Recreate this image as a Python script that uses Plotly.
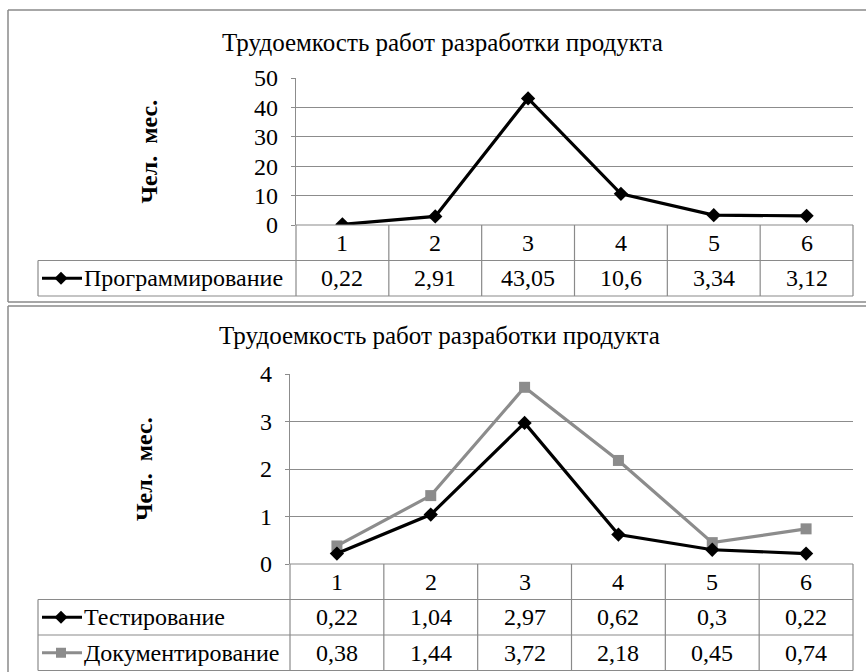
import plotly.graph_objects as go

# ---- data ----
categories = ["1", "2", "3", "4", "5", "6"]
title_text = "Трудоемкость работ разработки продукта"
y_title = "Чел.  мес."

prog_name = "Программирование"
prog_values = [0.22, 2.91, 43.05, 10.6, 3.34, 3.12]

test_name = "Тестирование"
test_values = [0.22, 1.04, 2.97, 0.62, 0.3, 0.22]

doc_name = "Документирование"
doc_values = [0.38, 1.44, 3.72, 2.18, 0.45, 0.74]

top_ticks = [0, 10, 20, 30, 40, 50]
bottom_ticks = [0, 1, 2, 3, 4]

# ---- page geometry (pixels) ----
W, H = 866, 672
FONT = "Liberation Serif"
TXT = 24
GRID = "#8c8c8c"
BORDER = "#8a8a8a"
DOC_GREY = "#8c8c8c"


def fx(px):
    return px / W


def fy(py):
    return 1 - py / H


def fmt(v):
    return f"{v:g}".replace(".", ",")


fig = go.Figure()
shapes = []
annotations = []


def line(x0, y0, x1, y1, color=BORDER, width=1.2):
    shapes.append(dict(type="line", xref="x3", yref="y3", x0=x0, y0=y0,
                       x1=x1, y1=y1, line=dict(color=color, width=width),
                       layer="above"))


def text(x, y, s, size=TXT, xanchor="center", angle=0):
    annotations.append(dict(xref="x3", yref="y3", x=x, y=y, text=s,
                            showarrow=False, xanchor=xanchor, yanchor="middle",
                            textangle=angle,
                            font=dict(family=FONT, size=size, color="black")))


def panel(idx, plot_left, plot_right, plot_top, plot_bottom, ymax, ticks,
          series, box_top, box_bottom, title_y, ytitle_x, table_rows):
    xa = "xaxis" if idx == 1 else f"xaxis{idx}"
    ya = "yaxis" if idx == 1 else f"yaxis{idx}"
    xr = "x" if idx == 1 else f"x{idx}"
    yr = "y" if idx == 1 else f"y{idx}"
    fig.layout[xa] = dict(domain=[fx(plot_left), fx(plot_right)],
                          range=[0.5, len(categories) + 0.5],
                          showgrid=False, zeroline=False, showticklabels=False,
                          showline=False, fixedrange=True, anchor=yr,
                          automargin=False)
    fig.layout[ya] = dict(domain=[fy(plot_bottom), fy(plot_top)],
                          range=[0, ymax], tickvals=ticks,
                          ticktext=[str(t) for t in ticks],
                          showgrid=True, gridcolor=GRID, gridwidth=1.3,
                          zeroline=False, showline=True, linecolor=GRID,
                          linewidth=1.2, ticks="outside", ticklen=4,
                          tickcolor=GRID, ticklabelstandoff=8,
                          tickfont=dict(family=FONT, size=TXT, color="black"),
                          fixedrange=True, anchor=xr, automargin=False)
    xs = list(range(1, len(categories) + 1))
    for name, vals, color, symbol, msize in series:
        fig.add_trace(go.Scatter(x=xs, y=vals, mode="lines+markers", name=name,
                                 xaxis=xr, yaxis=yr,
                                 line=dict(color=color, width=3.2),
                                 marker=dict(symbol=symbol, size=msize,
                                             color=color),
                                 showlegend=False, hoverinfo="skip"))

    # chart frame
    line(8, box_top, W + 5, box_top, width=1.5)
    line(8, box_top, 8, box_bottom, width=1.5)
    line(8, box_bottom, W + 5, box_bottom, width=1.5)

    # title and axis title
    text((plot_left + plot_right) / 2 - 132, title_y, title_text, size=25)
    text(ytitle_x, (plot_top + plot_bottom) / 2, "<b>" + y_title + "</b>",
         size=24, angle=-90)

    # data table
    row_h = 35.5
    col_w = (plot_right - plot_left) / len(categories)
    cat_bottom = plot_bottom + row_h
    table_bottom = cat_bottom + row_h * len(table_rows)
    line(plot_left, plot_bottom, plot_right, plot_bottom)
    for i in range(len(categories) + 1):
        cx = plot_left + i * col_w
        line(cx, plot_bottom, cx, table_bottom)
    for i, c in enumerate(categories):
        text(plot_left + (i + 0.5) * col_w, plot_bottom + row_h / 2, c)
    line(38, cat_bottom, plot_right, cat_bottom)
    line(38, cat_bottom, 38, table_bottom)
    for r, (name, vals, color, symbol, msize) in enumerate(table_rows):
        top = cat_bottom + r * row_h
        bottom = top + row_h
        cy = (top + bottom) / 2
        line(38, bottom, plot_right, bottom)
        # legend key: short line with the series marker
        line(42, cy, 82, cy, color=color, width=3)
        fig.add_trace(go.Scatter(x=[61], y=[cy], mode="markers",
                                 xaxis="x3", yaxis="y3",
                                 marker=dict(symbol=symbol, size=msize - 1,
                                             color=color),
                                 showlegend=False, hoverinfo="skip"))
        text(82, cy, name, xanchor="left")
        for i, v in enumerate(vals):
            text(plot_left + (i + 0.5) * col_w, cy, fmt(v))


prog_series = [(prog_name, prog_values, "black", "diamond", 11)]
panel(1, 296, 853, 78, 225, 50, top_ticks, prog_series,
      box_top=10, box_bottom=302, title_y=42, ytitle_x=148,
      table_rows=prog_series)

bottom_series = [(doc_name, doc_values, DOC_GREY, "square", 11),
                 (test_name, test_values, "black", "diamond", 11)]
panel(2, 290, 853, 374, 564, 4, bottom_ticks, bottom_series,
      box_top=306, box_bottom=H + 5, title_y=335, ytitle_x=144,
      table_rows=[bottom_series[1], bottom_series[0]])

# pixel-space overlay used for frames, table and labels
fig.layout["xaxis3"] = dict(domain=[0, 1], range=[0, W], visible=False,
                            fixedrange=True, anchor="y3", automargin=False)
fig.layout["yaxis3"] = dict(domain=[0, 1], range=[H, 0], visible=False,
                            fixedrange=True, anchor="x3", automargin=False)

fig.update_layout(template="none", width=W, height=H,
                  margin=dict(l=0, r=0, t=0, b=0, pad=0, autoexpand=False),
                  font=dict(family=FONT, size=TXT, color="black"),
                  paper_bgcolor="white", plot_bgcolor="rgba(0,0,0,0)",
                  shapes=shapes, annotations=annotations, showlegend=False)

fig.write_html("out.html")
